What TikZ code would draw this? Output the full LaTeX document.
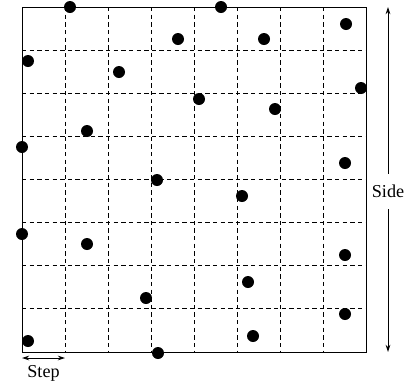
\documentclass[tikz,border=0pt]{standalone}
\usepackage{fontspec}
\setmainfont{Liberation Serif}
\usetikzlibrary{arrows.meta}
\begin{document}
\begin{tikzpicture}[x=0.55pt, y=-0.55pt]
	\tikzstyle{dot}=[inner sep=0pt,minimum size=6.6pt,circle,fill=black]
	\tikzstyle{gridline}=[line width=0.45pt,dash pattern=on 2.4pt off 1.8pt]
	\tikzstyle{measure}=[line width=0.45pt,{Stealth[length=4pt,width=2.6pt]}-{Stealth[length=4pt,width=2.6pt]}]
	\useasboundingbox (0,0) rectangle (409,381);
	% square and its cells
	\coordinate (NW) at (22,7);
	\coordinate (SE) at (366,352);
	\foreach \k in {1,...,7}{
		\draw[gridline] (22+43*\k,7) -- (22+43*\k,352);
		\draw[gridline] (22,7+43*\k) -- (366,7+43*\k);
	}
	\draw[line width=0.55pt] (NW) rectangle (SE);
	% points
	\draw 
	node[dot](p1)at(70,7){}
	node[dot](p2)at(221,7){}
	node[dot](p3)at(346,24){}
	node[dot](p4)at(178,39){}
	node[dot](p5)at(264,39){}
	node[dot](p6)at(28,61){}
	node[dot](p7)at(119,72){}
	node[dot](p8)at(361,88){}
	node[dot](p9)at(199,99){}
	node[dot](p10)at(275,109){}
	node[dot](p11)at(87,131){}
	node[dot](p12)at(22,147){}
	node[dot](p13)at(345,163){}
	node[dot](p14)at(157,180){}
	node[dot](p15)at(242,196){}
	node[dot](p16)at(22,234){}
	node[dot](p17)at(87,244){}
	node[dot](p18)at(345,255){}
	node[dot](p19)at(248,282){}
	node[dot](p20)at(146,298){}
	node[dot](p21)at(345,314){}
	node[dot](p22)at(28,341){}
	node[dot](p23)at(253,336){}
	node[dot](p24)at(158,353){};
	% dimensions
	\coordinate (SideTop) at (388,7);
	\coordinate (SideBot) at (388,352);
	\coordinate (StepL) at (22,358);
	\coordinate (StepR) at (65,358);
	\draw[measure](SideTop)--(SideBot) node[pos=0.535, fill=white, inner sep=1pt, inner ysep=6pt] (side) {Side};
	\draw[measure](StepL)--(StepR) node[midway, below=0.5pt] (step) {Step};
\end{tikzpicture}
\end{document}
